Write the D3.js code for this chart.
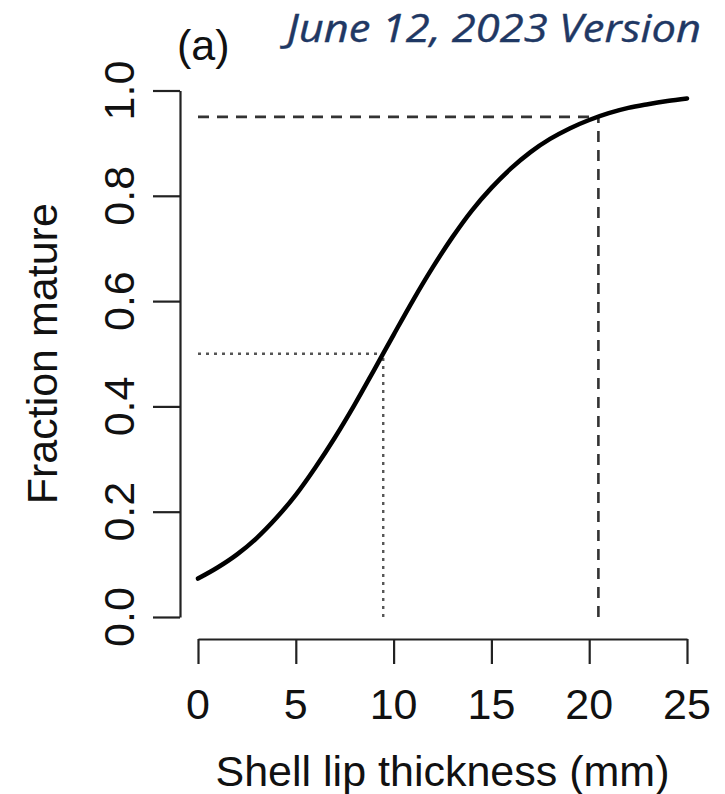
<!DOCTYPE html>
<html>
<head>
<meta charset="utf-8">
<script src="https://cdn.jsdelivr.net/npm/d3@7"></script>
<style>
  html, body { margin: 0; padding: 0; background: #fff; }
  svg { display: block; }
</style>
</head>
<body>
<svg id="chart" width="725" height="794"></svg>
<script>
// Values (fraction mature at each lip thickness, mm)
const thickness = [0,1,2,3,4,5,6,7,8,9,10,11,12,13,14,15,16,17,18,19,20,21,22,23,24,25];
const fractionMature = [0.073,0.094,0.119,0.150,0.188,0.232,0.284,0.341,0.403,0.469,0.536,0.602,0.664,0.721,0.772,0.815,0.852,0.883,0.908,0.928,0.944,0.957,0.967,0.974,0.980,0.985];
const xTicks = [0,5,10,15,20,25];
const yTicks = [0.0,0.2,0.4,0.6,0.8,1.0];
const yTickLabels = ["0.0","0.2","0.4","0.6","0.8","1.0"];
const l50 = [9.47, 0.5];   // size at 50% maturity
const l95 = [20.47, 0.95]; // size at 95% maturity
const panelLabel = "(a)";
const versionText = "June 12, 2023 Version";
const xTitle = "Shell lip thickness (mm)";
const yTitle = "Fraction mature";

const svg = d3.select("#chart");
const font = "'Liberation Sans', Arial, Helvetica, sans-serif";
const fs = 43;

const x = d3.scaleLinear().domain([0, 25]).range([198, 687]);
const y = d3.scaleLinear().domain([0, 1]).range([617, 90.5]);
const axisX = 180;  // y-axis line position
const axisY = 639;  // x-axis line position

// Y axis
const yAxis = svg.append("g").attr("transform", `translate(${axisX},0)`)
  .call(d3.axisLeft(y).tickValues(yTicks).tickSize(27).tickSizeOuter(0).tickFormat(() => ""));
yAxis.select(".domain").attr("stroke", "#222").attr("stroke-width", 2.2);
yAxis.selectAll(".tick line").attr("stroke", "#222").attr("stroke-width", 2.2);

svg.append("g").selectAll("text").data(yTicks).join("text")
  .attr("transform", (d) => `translate(134,${y(d)}) rotate(-90)`)
  .attr("text-anchor", "middle")
  .attr("font-family", font).attr("font-size", fs).attr("fill", "#111")
  .text((d, i) => yTickLabels[i]);

// X axis
const xAxis = svg.append("g").attr("transform", `translate(0,${axisY})`)
  .call(d3.axisBottom(x).tickValues(xTicks).tickSize(25).tickSizeOuter(0).tickFormat(() => ""));
xAxis.select(".domain").attr("stroke", "#222").attr("stroke-width", 2.2);
xAxis.selectAll(".tick line").attr("stroke", "#222").attr("stroke-width", 2.2);

svg.append("g").selectAll("text").data(xTicks).join("text")
  .attr("x", (d) => x(d)).attr("y", 719)
  .attr("text-anchor", "middle")
  .attr("font-family", font).attr("font-size", fs).attr("fill", "#111")
  .text((d) => d);

// Axis titles
svg.append("text")
  .attr("x", (x.range()[0] + x.range()[1]) / 2).attr("y", 786)
  .attr("text-anchor", "middle")
  .attr("font-family", font).attr("font-size", fs).attr("fill", "#111")
  .text(xTitle);

svg.append("text")
  .attr("transform", `translate(57,${y(0.5)}) rotate(-90)`)
  .attr("text-anchor", "middle")
  .attr("font-family", font).attr("font-size", fs).attr("fill", "#111")
  .text(yTitle);

// Reference lines: 95% (dashed)
svg.append("line")
  .attr("x1", x(0)).attr("y1", y(l95[1])).attr("x2", x(l95[0])).attr("y2", y(l95[1]))
  .attr("stroke", "#333").attr("stroke-width", 2.6).attr("stroke-dasharray", "11,8");
svg.append("line")
  .attr("x1", x(l95[0])).attr("y1", y(0)).attr("x2", x(l95[0])).attr("y2", y(l95[1]))
  .attr("stroke", "#333").attr("stroke-width", 2.6).attr("stroke-dasharray", "11,8");

// Reference lines: 50% (dotted)
svg.append("line")
  .attr("x1", x(0)).attr("y1", y(l50[1])).attr("x2", x(l50[0])).attr("y2", y(l50[1]))
  .attr("stroke", "#555").attr("stroke-width", 2.4).attr("stroke-dasharray", "3,5");
svg.append("line")
  .attr("x1", x(l50[0])).attr("y1", y(0)).attr("x2", x(l50[0])).attr("y2", y(l50[1]))
  .attr("stroke", "#555").attr("stroke-width", 2.4).attr("stroke-dasharray", "3,5");

// Maturity curve
const line = d3.line().x((d, i) => x(thickness[i])).y((d) => y(d)).curve(d3.curveMonotoneX);
svg.append("path")
  .datum(fractionMature)
  .attr("d", line)
  .attr("fill", "none").attr("stroke", "#000").attr("stroke-width", 4.5)
  .attr("stroke-linecap", "round");

// Panel label
svg.append("text")
  .attr("x", 177).attr("y", 60)
  .attr("font-family", font).attr("font-size", fs).attr("fill", "#111")
  .text(panelLabel);

// Version stamp
svg.append("text")
  .attr("x", 287).attr("y", 42)
  .attr("font-family", "'Open Sans', 'Noto Sans', sans-serif")
  .attr("font-style", "italic").attr("font-size", 39)
  .attr("fill", "#1f3864")
  .attr("stroke", "#1f3864").attr("stroke-width", 0.4)
  .attr("textLength", 414).attr("lengthAdjust", "spacingAndGlyphs")
  .text(versionText);
</script>
</body>
</html>
